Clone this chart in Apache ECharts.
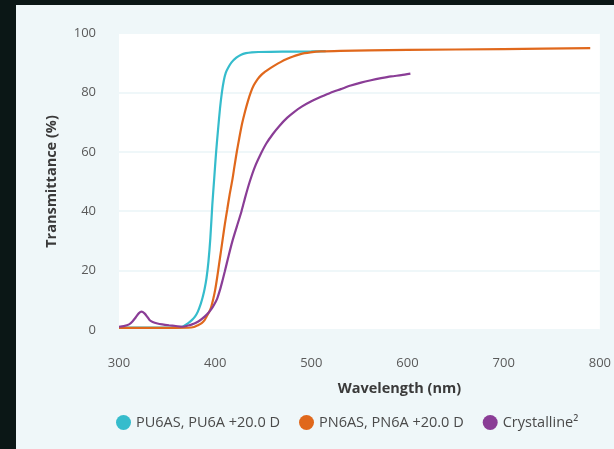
<!DOCTYPE html>
<html>
<head>
<meta charset="utf-8">
<script src="https://cdn.jsdelivr.net/npm/echarts@6/dist/echarts.min.js"></script>
<style>
html,body{margin:0;padding:0;width:614px;height:449px;background:#0b1716;overflow:hidden;}
#chart{position:absolute;left:16px;top:5px;width:598px;height:444px;background:#eff7f9;}
</style>
</head>
<body>
<div id="chart"></div>
<script>
var seriesNames = ['PU6AS, PU6A +20.0 D', 'PN6AS, PN6A +20.0 D', 'Crystalline\u00B2'];
var xTicks = [300, 400, 500, 600, 700, 800];
var yTicks = [0, 20, 40, 60, 80, 100];

var pu6a = [[300,0.8],[330,0.8],[355,0.8],[362,0.9],[367,1.3],[372,2.3],[376,3.4],[379,4.5],[382,6.2],[385,8.8],[387,11],[389,13.8],[391,17.5],[393,23],[395,31],[397,42],[399,51],[401,60],[403,67.5],[405,74.5],[407,80],[409,84],[411,86.6],[413.5,88.3],[417,90.1],[422,91.7],[427,92.7],[432,93.2],[438,93.5],[445,93.6],[470,93.7],[500,93.8],[515,93.9]];
var pn6a = [[300,0.7],[350,0.7],[372,0.75],[378,1],[382,1.6],[386,2.3],[389,3.3],[391,4.5],[394,6.2],[396,7.9],[398,10.4],[400,13.5],[402,17.5],[404,22],[406,26.5],[408,31],[410,35.5],[412.5,40.5],[415,45.5],[418,50.8],[420,55],[422.5,60],[425,64.5],[428,69.5],[431,73.5],[434,77],[437,80],[440,82.3],[444,84.4],[448,85.9],[452,87],[457,88.1],[462,89.1],[468,90.2],[475,91.3],[481,92.1],[487,92.7],[493,93.2],[499,93.5],[510,93.8],[530,94],[560,94.15],[600,94.3],[700,94.6],[790,94.9]];
var crystalline = [[300,1.1],[305,1.3],[310.5,1.9],[314,2.9],[317.5,4.3],[320.5,5.6],[323.4,6.2],[326.5,5.6],[329.7,4.3],[332,3.3],[335,2.7],[340,2.2],[345,1.9],[352,1.6],[359,1.35],[366,1.1],[372,1.5],[376,1.9],[379,2.3],[384,3.2],[389,4.5],[393,5.8],[396,7],[399,8.6],[402,10.5],[405,13.5],[407.5,16.5],[410,19.7],[414,25],[418,30],[422.5,34.8],[427.4,40],[431.5,45],[436,50],[441,54.7],[447,59],[453,62.7],[460,66],[467,68.8],[475,71.5],[482,73.4],[490,75.2],[500,77],[510,78.5],[520,79.9],[530.6,81.1],[541,82.3],[551.6,83.3],[562,84.1],[572.5,84.8],[583,85.4],[593.5,85.8],[603,86.3]];

var colors = ['#35bccc', '#e0681c', '#8a3d96'];
var FONT = 'Open Sans';

var chart = echarts.init(document.getElementById('chart'));
chart.setOption({
  animation: false,
  color: colors,
  textStyle: {fontFamily: FONT},
  grid: {left: 103, right: 13, top: 28, bottom: 119, show: true, backgroundColor: '#ffffff', borderWidth: 0},
  legend: {
    left: 95, top: 405,
    icon: 'circle', itemWidth: 15, itemHeight: 15, itemGap: 19,
    textStyle: {fontFamily: FONT, fontSize: 14.5, color: '#4a4a4a'},
    data: seriesNames
  },
  xAxis: {
    type: 'value', min: xTicks[0], max: xTicks[xTicks.length-1], interval: 100,
    name: 'Wavelength (nm)', nameLocation: 'middle', nameGap: 51,
    nameTextStyle: {fontFamily: FONT, fontSize: 14.5, fontWeight: 'bold', color: '#3a3a3a', padding: [0,0,0,80]},
    axisLine: {show: false}, axisTick: {show: false},
    axisLabel: {margin: 27, fontSize: 13, color: '#5a5a5a'},
    splitLine: {show: false}
  },
  yAxis: {
    type: 'value', min: yTicks[0], max: yTicks[yTicks.length-1], interval: 20,
    name: 'Transmittance (%)', nameLocation: 'middle', nameGap: 60,
    nameTextStyle: {fontFamily: FONT, fontSize: 14.5, fontWeight: 'bold', color: '#3a3a3a'},
    axisLine: {show: false}, axisTick: {show: false},
    axisLabel: {margin: 23, fontSize: 13, color: '#5a5a5a', padding: [6,0,0,0]},
    splitLine: {show: true, lineStyle: {color: '#eff7f9', width: 2}}
  },
  series: [
    {name: seriesNames[0], type: 'line', data: pu6a, smooth: 0.25, showSymbol: false, lineStyle: {width: 2.2}},
    {name: seriesNames[1], type: 'line', data: pn6a, smooth: 0.25, showSymbol: false, lineStyle: {width: 2.2}},
    {name: seriesNames[2], type: 'line', data: crystalline, smooth: 0.25, showSymbol: false, lineStyle: {width: 2.2}}
  ]
});
</script>
</body>
</html>
